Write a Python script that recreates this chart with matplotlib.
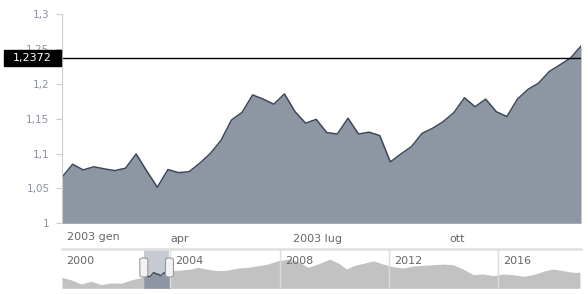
import datetime as dt
import matplotlib
matplotlib.use('Agg')
import matplotlib.pyplot as plt
import matplotlib.dates as mdates
from matplotlib.patches import Rectangle, FancyBboxPatch

# weekly closes, 2003
start = dt.date(2003, 1, 13)
dates = [start + dt.timedelta(weeks=i) for i in range(50)]
values = [1.066, 1.0846, 1.0765, 1.081, 1.078, 1.0755, 1.079, 1.0994, 1.075, 1.0517,
          1.077, 1.0726, 1.074, 1.086, 1.100, 1.1185, 1.148, 1.159, 1.184, 1.178,
          1.1707, 1.1855, 1.160, 1.1435, 1.149, 1.130, 1.128, 1.1506, 1.128, 1.1306,
          1.1257, 1.088, 1.0994, 1.110, 1.129, 1.1363, 1.1458, 1.1587, 1.180, 1.167,
          1.178, 1.160, 1.153, 1.178, 1.192, 1.201, 1.2175, 1.227, 1.2367, 1.254]
price = 1.2372
price_label = '1,2372'

y_ticks = [1, 1.05, 1.1, 1.15, 1.2, 1.25, 1.3]
y_labels = ['1', '1,05', '1,1', '1,15', '1,2', '1,25', '1,3']
x_ticks = [dt.date(2003, 4, 1), dt.date(2003, 7, 1), dt.date(2003, 10, 1)]
x_labels = ['apr', '2003 lug', 'ott']
first_label = '2003 gen'

# navigator (whole history), decimal years
nav_years_before = [2000.04, 2000.38, 2000.74, 2001.11, 2001.47, 2001.84, 2002.21, 2002.57, 2002.88]
nav_before = [1.048, 0.968, 0.851, 0.930, 0.830, 0.880, 0.871, 0.968, 1.027]
nav_years_after = [2004.04, 2004.40, 2004.77, 2005.01, 2005.38, 2005.74, 2006.11, 2006.48, 2006.84,
                   2007.21, 2007.57, 2007.94, 2008.30, 2008.67, 2009.04, 2009.40, 2009.84, 2010.21,
                   2010.45, 2010.70, 2011.06, 2011.43, 2011.79, 2012.16, 2012.52, 2012.89, 2013.26,
                   2013.62, 2013.99, 2014.35, 2014.72, 2015.09, 2015.45, 2015.82, 2016.18, 2016.55,
                   2016.92, 2017.28, 2017.65, 2018.01, 2018.38, 2018.74, 2018.99]
nav_after = [1.242, 1.262, 1.292, 1.342, 1.283, 1.242, 1.262, 1.321, 1.342,
             1.389, 1.439, 1.536, 1.586, 1.518, 1.342, 1.439, 1.586, 1.439,
             1.292, 1.389, 1.459, 1.536, 1.439, 1.359, 1.321, 1.380, 1.401,
             1.418, 1.439, 1.418, 1.292, 1.124, 1.145, 1.095, 1.145, 1.124,
             1.077, 1.124, 1.224, 1.292, 1.242, 1.195, 1.195]
nav_grid_years = [2004, 2008, 2012, 2016]
nav_label_years = [2000, 2004, 2008, 2012, 2016]

area_color = '#8e96a4'
line_color = '#3b4759'
text_color = '#666666'

W, H = 588, 294
fig = plt.figure(figsize=(W / 100, H / 100), dpi=100)

# main chart
ax = fig.add_axes([62 / W, (H - 223.3) / H, 519 / W, 209.3 / H])
xd = mdates.date2num(dates)
ax.fill_between(xd, values, 1, color=area_color, lw=0)
ax.plot(xd, values, color=line_color, lw=1.1)
ax.axhline(price, color='black', lw=1)
ax.set_xlim(xd[0], xd[-1])
ax.set_ylim(1, 1.3)
for s in ['top', 'right', 'bottom']:
    ax.spines[s].set_visible(False)
ax.spines['left'].set_color('#cccccc')
ax.set_yticks(y_ticks)
ax.set_yticklabels(y_labels)
ax.tick_params(axis='y', length=4, color='#cccccc', labelcolor='#8a92a2', labelsize=7.5, pad=5)
ax.set_xticks(mdates.date2num(x_ticks))
ax.set_xticklabels(x_labels)
ax.tick_params(axis='x', length=0, labelcolor=text_color, labelsize=8, pad=8)
ax.text(0.009, -13.4 / 209.3, first_label, transform=ax.transAxes, ha='left', va='center',
        color=text_color, fontsize=8)

# price tag
yp = ax.transData.transform((xd[0], price))[1] / H
fig.patches.append(Rectangle((4 / W, yp - 8.3 / H), 57 / W, 16.6 / H, color='black',
                             transform=fig.transFigure, zorder=5))
fig.text(32.5 / W, yp, price_label, color='white', fontsize=8, ha='center', va='center', zorder=6)

# navigator
nav = fig.add_axes([62 / W, (H - 288.3) / H, 519 / W, 39.8 / H])
yr = [2003 + (d - dt.date(2003, 1, 1)).days / 365 for d in dates]
ny = nav_years_before + yr + nav_years_after
nv = nav_before + values + nav_after
nav.set_xlim(2000.04, 2019.03)
nav.set_ylim(0.72, 1.9)
nav.axvspan(yr[0], yr[-1], color='#c6cad3', lw=0, zorder=0)
nav.fill_between(ny, nv, 0.72, color='#c2c2c2', lw=0, zorder=1)
nav.fill_between(yr, values, 0.72, color=area_color, lw=0, zorder=2)
nav.plot(yr, values, color=line_color, lw=0.8, zorder=3)
for g in nav_grid_years:
    nav.axvline(g, color='#dddddd', lw=1, zorder=4)
for g in nav_label_years:
    nav.text(g + 0.19, 0.69, str(g), transform=nav.get_xaxis_transform(), color=text_color,
             fontsize=8, ha='left', va='center', zorder=5)
nav.set_xticks([])
nav.set_yticks([])
for s in ['left', 'right', 'bottom']:
    nav.spines[s].set_visible(False)
nav.spines['top'].set_color('#e2e2e2')
nav.spines['top'].set_linewidth(2)

# navigator handles
for y0 in (yr[0], yr[-1]):
    xp = nav.transData.transform((y0, 1))[0]
    fig.patches.append(FancyBboxPatch(((xp - 4) / W, (H - 277) / H), 8 / W, 19 / H,
                                      boxstyle='round,pad=0,rounding_size=0.006',
                                      transform=fig.transFigure, facecolor='#f2f2f2',
                                      edgecolor='#999999', lw=0.8, zorder=6))

fig.savefig('out.png', dpi=100)
